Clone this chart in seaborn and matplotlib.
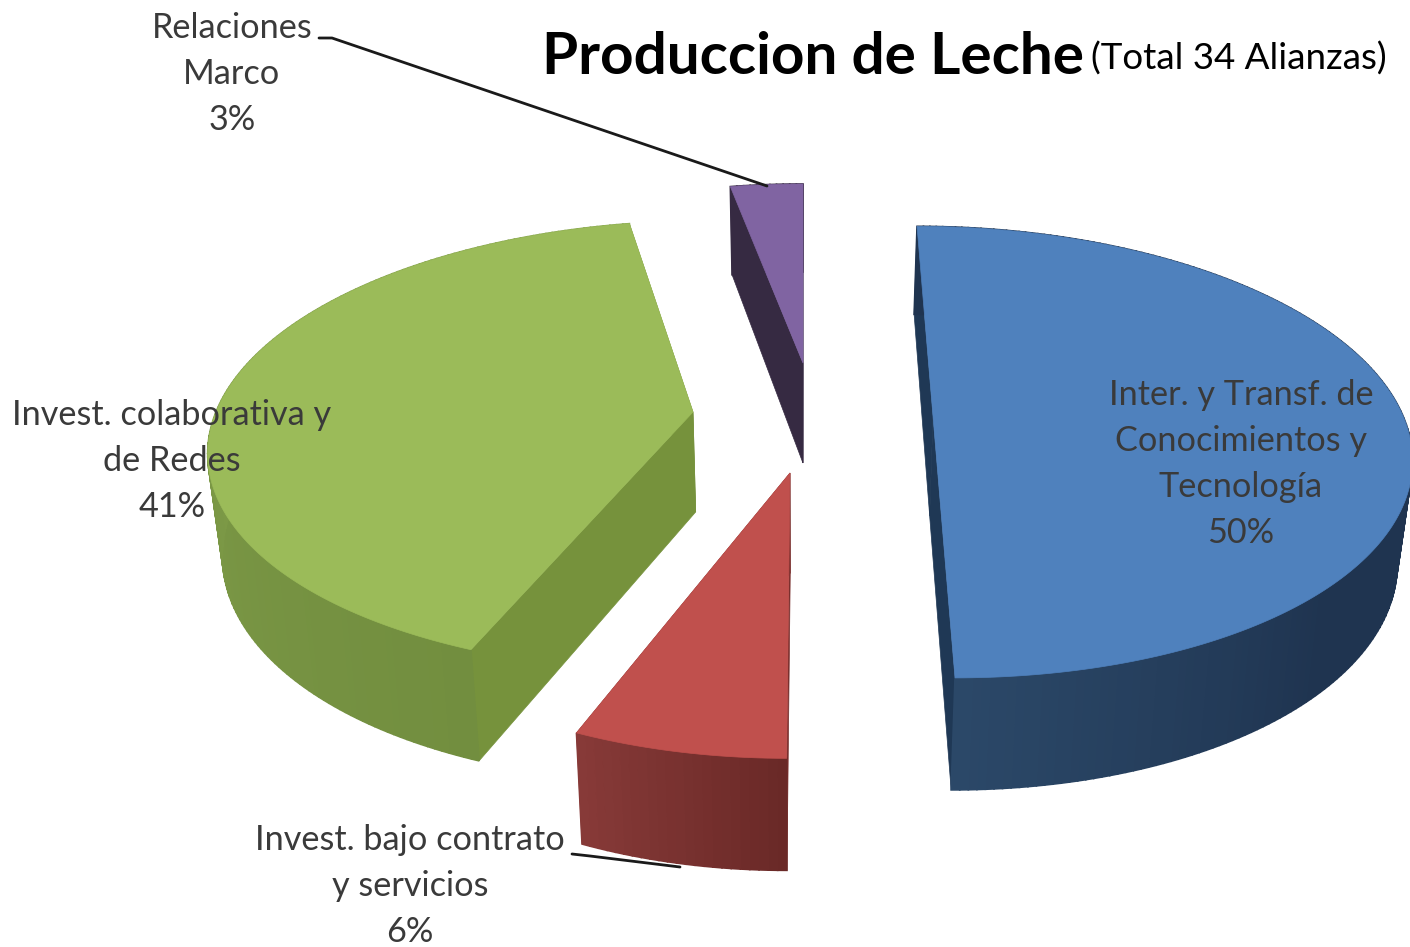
import numpy as np
import matplotlib.pyplot as plt
import seaborn as sns
from matplotlib.patches import Polygon

# Data
categories = ["Inter. y Transf. de\nConocimientos y\nTecnología", "Invest. bajo contrato\ny servicios",
              "Invest. colaborativa y\nde Redes", "Relaciones\nMarco"]
percent = [50, 6, 41, 3]

# Slice styles
top_colors = ["#4f81bd", "#c0504d", "#9bbb59", "#8064a2"]
cut_colors = ["#1f3855", "#7a2f2d", "#76923c", "#362a42"]
wall_from = ["#2b4868", "#873a38", "#88a64f", "#362a42"]
wall_to = ["#1f3450", "#6a2927", "#728e3f", "#362a42"]
wall_flat = [4, 1, 1, 1]

# Slice apex in pixels and its perspective / tilt / width
apex_xy = [(933, 416), (790, 473), (693, 412), (803, 363)]
persp = [0.16, 0.229, 0.15, 0.229]
tilt = [18.5, -2.6, -16.7, 0]
radius_x = [470, 450, 477, 475]

# Label anchors in pixels
label_xy = [(1241, 464), (410, 886), (172, 461), (232, 74)]

sns.set_theme(style="white")
plt.rcParams['font.family'] = ['Lato', 'DejaVu Sans']

RY = 220
VANISH_X, SQUEEZE = 800, 0.025  # the underside is a little narrower

fig, ax = plt.subplots(figsize=(14.1, 9.47), dpi=100)
fig.subplots_adjust(0, 0, 1, 1)
ax.set_xlim(0, 1410)
ax.set_ylim(947, 0)
ax.axis("off")


def under(x):
    return x + SQUEEZE * (VANISH_X - x)


start = 0.0
for i, p in enumerate(percent):
    sweep = np.deg2rad(p * 3.6)
    t = np.linspace(start, start + sweep, max(int(p * 4), 10))
    u, v = np.sin(t), -np.cos(t)
    s = 1 / (1 - persp[i] * v)
    ax0, ay0 = apex_xy[i]
    px = ax0 + radius_x[i] * u * s + tilt[i] * v * s
    py = ay0 + RY * v * s
    d = 100 + 12 * v
    d0 = 100
    qx = under(px)

    # the two radial cuts
    for k in (0, -1):
        ax.add_patch(Polygon([(ax0, ay0), (px[k], py[k]), (qx[k], py[k] + d[k]), (under(ax0), ay0 + d0)],
                             closed=True, fc=cut_colors[i], ec=cut_colors[i], lw=0.5))

    # outer wall, shaded along the arc
    pal = sns.blend_palette([wall_to[i]] * wall_flat[i] + [wall_from[i]], len(t) - 1)
    for j in range(len(t) - 1):
        ax.add_patch(Polygon([(px[j], py[j]), (px[j + 1], py[j + 1]),
                              (qx[j + 1], py[j + 1] + d[j + 1]), (qx[j], py[j] + d[j])],
                             closed=True, fc=pal[j], ec=pal[j], lw=1.2))

    # top face
    ax.add_patch(Polygon(np.column_stack([np.r_[ax0, px], np.r_[ay0, py]]),
                         closed=True, fc=top_colors[i], ec=top_colors[i], lw=0.5))
    start += sweep

# Leader lines
ax.plot([319, 332, 767], [38, 38, 186], color="#1a1a1a", lw=2)
ax.plot([572, 590, 680], [854, 856, 867], color="#1a1a1a", lw=2)

for name, p, (lx, ly) in zip(categories, percent, label_xy):
    ax.text(lx, ly, f"{name}\n{p}%", ha="center", va="center", fontsize=24.7, color="#3a3a3a", linespacing=1.53)

ax.text(542, 57, "Produccion de Leche", ha="left", va="center", fontsize=42, fontweight="bold", color="black")
ax.text(1091, 59, "(Total 34 Alianzas)", ha="left", va="center", fontsize=26.5, color="black")

fig.savefig("out.png", dpi=100)
